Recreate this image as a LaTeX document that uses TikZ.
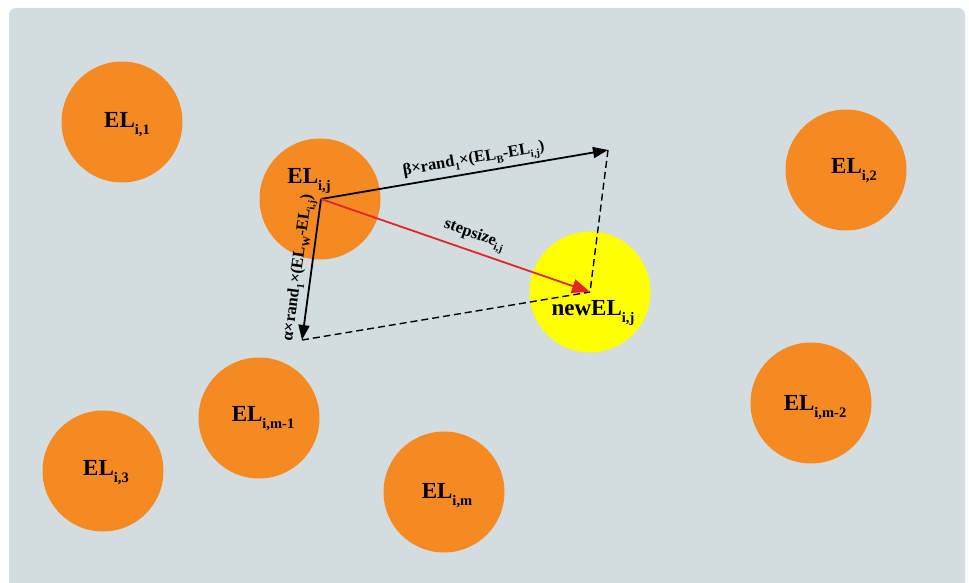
\documentclass[tikz,border=0pt]{standalone}
\usepackage{fontspec}
\setmainfont{Liberation Serif}
\usetikzlibrary{arrows.meta}
\definecolor{bgc}{HTML}{D3DCDF}
\definecolor{orng}{HTML}{F58A22}
\definecolor{yel}{HTML}{FFFF00}
\definecolor{redarrow}{HTML}{E3242B}
\newcommand\bigsub[1]{\raisebox{-7pt}{\fontsize{14.5}{15}\selectfont #1}}
\newcommand\smsub[1]{\raisebox{-4.5pt}{\fontsize{10.5}{11}\selectfont #1}}
\begin{document}
\begin{tikzpicture}[x=1pt,y=1pt,
  elcirc/.style={circle,fill=orng,minimum size=121pt,inner sep=0pt},
  newcirc/.style={circle,fill=yel,minimum size=121pt,inner sep=0pt},
  eltext/.style={font=\bfseries\fontsize{23}{26}\selectfont,inner sep=0pt},
  vectext/.style={font=\bfseries\fontsize{16.5}{18}\selectfont,inner sep=2pt},
  vec/.style={line width=1.8pt,-{Triangle[length=15pt,width=11pt]}},
  redvec/.style={line width=1.8pt,draw=redarrow,-{Triangle[length=18pt,width=14pt]},color=redarrow},
  dashline/.style={line width=1.4pt,dash pattern=on 7pt off 4pt}
]
\useasboundingbox (0,0) rectangle (969,582);
\clip (0,0) rectangle (969,582);
\fill[white] (0,0) rectangle (969,582);
\fill[bgc,rounded corners=7pt] (9,-20) rectangle (965,574);

\node[elcirc] (c1) at (122,460) {};
\node[elcirc] (cj) at (320,383) {};
\node[elcirc] (c2) at (846,412) {};
\node[newcirc] (cn) at (590,290) {};
\node[elcirc] (cm1) at (259,164) {};
\node[elcirc] (c3) at (103,111) {};
\node[elcirc] (cm) at (444,90) {};
\node[elcirc] (cm2) at (811,179) {};

\node[eltext] (t1) at (127,457) {EL\bigsub{i,1}};
\node[eltext] (tj) at (309,401) {EL\bigsub{i,j}};
\node[eltext] (t2) at (854,411) {EL\bigsub{i,2}};
\node[eltext] (tn) at (593,269) {newEL\bigsub{i,j}};
\node[eltext] (tm1) at (263,163) {EL\bigsub{i,m-1}};
\node[eltext] (t3) at (106,109) {EL\bigsub{i,3}};
\node[eltext] (tm) at (447,86) {EL\bigsub{i,m}};
\node[eltext] (tm2) at (815,174) {EL\bigsub{i,m-2}};

\coordinate (O) at (321,383);
\coordinate (B) at (608,432);
\coordinate (W) at (302,242);
\coordinate (N) at (590,290);

\draw[dashline] (B) -- (N);
\draw[dashline] (W) -- (N);

\draw[vec] (O) -- (B) node[vectext,pos=0.54,above,sloped] (lb) {β×rand\smsub{1}×(EL\smsub{B}-EL\smsub{i,j})};
\draw[vec] (O) -- (W) node[vectext,pos=0.5,above,sloped] (lw) {α×rand\smsub{1}×(EL\smsub{W}-EL\smsub{i,j})};
\draw[redvec] (O) -- (N) node[vectext,pos=0.55,above=3pt,sloped,text=black] (ls) {stepsize\smsub{i,j}};
\end{tikzpicture}
\end{document}
